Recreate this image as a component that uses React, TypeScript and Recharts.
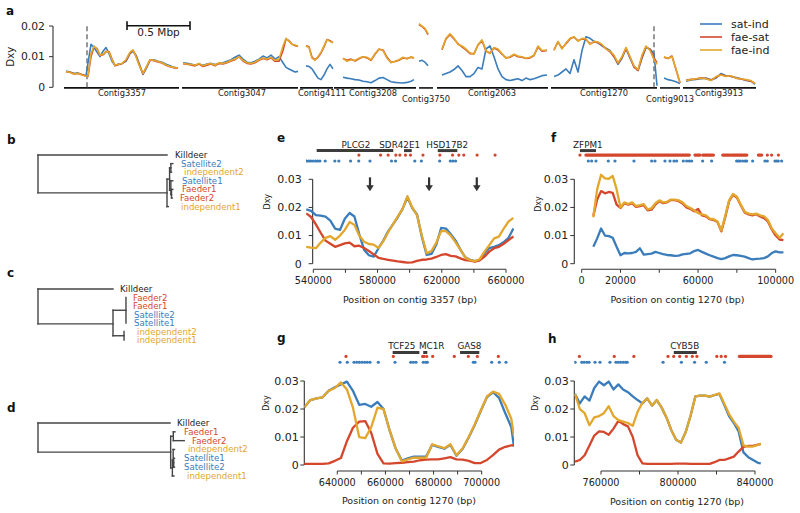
import React from "react";
import {
  ComposedChart,
  Line,
  Scatter,
  XAxis,
  YAxis,
  ReferenceLine,
  ReferenceDot,
  Legend,
} from "recharts";

const FONT = "DejaVu Sans, sans-serif";
const BLUE = "#3b7dbb";
const RED = "#d4472c";
const GOLD = "#e2a72c";
const INK = "#222";
const AXIS = "#333";
const GENE = "#3c3c3c";

const SERIES = [
  { key: "sat-ind", color: BLUE },
  { key: "fae-sat", color: RED },
  { key: "fae-ind", color: GOLD },
];

// ---------- panel a: genome-wide Dxy (positions in kb) ----------
const aContigs = [
  { name: "Contig3357", start: 0, end: 920, labelX: 464, low: false },
  { name: "Contig3047", start: 944, end: 1872, labelX: 1424, low: false },
  { name: "Contig4111", start: 1888, end: 2152, labelX: 2064, low: false },
  { name: "Contig3208", start: 2160, end: 2816, labelX: 2472, low: false },
  { name: "Contig3750", start: 2840, end: 2952, labelX: 2896, low: true },
  { name: "Contig2063", start: 2984, end: 3872, labelX: 3424, low: false },
  { name: "Contig1270", start: 3896, end: 4744, labelX: 4320, low: false },
  { name: "Contig9013", start: 4768, end: 4928, labelX: 4848, low: true },
  { name: "Contig3913", start: 4952, end: 5536, labelX: 5240, low: false },
];
const aBreaks = [184, 4720];

const aPos = [
  [16, 48, 80, 112, 144, 176, 192, 216, 240, 264, 288, 312, 336, 360, 384, 408, 432, 464, 496, 528, 552, 576, 608, 632, 656, 688, 720, 752, 784, 816, 848, 880, 912],
  [952, 984, 1016, 1048, 1080, 1112, 1144, 1176, 1208, 1240, 1272, 1304, 1336, 1368, 1400, 1432, 1464, 1496, 1528, 1560, 1592, 1624, 1656, 1688, 1720, 1752, 1776, 1800, 1824, 1848, 1872],
  [1936, 1960, 1984, 2008, 2032, 2056, 2080, 2104, 2128, 2152],
  [2232, 2264, 2296, 2328, 2360, 2392, 2424, 2456, 2488, 2520, 2552, 2584, 2616, 2648, 2680, 2712, 2744, 2776, 2800],
  [2840, 2864, 2888, 2912],
  [3024, 3056, 3088, 3120, 3152, 3184, 3216, 3248, 3280, 3312, 3344, 3376, 3408, 3440, 3472, 3504, 3536, 3568, 3600, 3632, 3664, 3696, 3728, 3760, 3792, 3824, 3864],
  [3920, 3952, 3984, 4016, 4048, 4080, 4112, 4144, 4176, 4208, 4240, 4272, 4304, 4336, 4368, 4400, 4432, 4464, 4496, 4528, 4560, 4592, 4624, 4656, 4688, 4720, 4744],
  [4800, 4832, 4864, 4896, 4928],
  [4976, 5016, 5056, 5096, 5136, 5176, 5216, 5256, 5296, 5336, 5376, 5416, 5456, 5496, 5528],
];
const aSatInd = [
  [.0053, .0050, .0045, .0047, .0042, .0038, .0080, .0140, .0130, .0115, .0100, .0118, .0130, .0110, .0085, .0072, .0075, .0078, .0085, .0110, .0118, .0105, .0070, .0042, .0060, .0088, .0090, .0085, .0082, .0075, .0070, .0065, .0063],
  [.0080, .0078, .0076, .0072, .0076, .0072, .0076, .0078, .0074, .0078, .0080, .0085, .0090, .0098, .0105, .0092, .0082, .0080, .0085, .0092, .0102, .0096, .0105, .0092, .0100, .0080, .0065, .0060, .0055, .0050, .0052],
  [.0070, .0068, .0060, .0045, .0030, .0025, .0040, .0060, .0075, .0060],
  [.0033, .0030, .0028, .0025, .0024, .0020, .0018, .0015, .0022, .0030, .0032, .0025, .0018, .0016, .0015, .0014, .0016, .0020, .0025],
  [.0085, .0088, .0082, .0070],
  [.0040, .0045, .0050, .0058, .0070, .0055, .0035, .0035, .0045, .0065, .0060, .0125, .0135, .0100, .0060, .0035, .0025, .0022, .0025, .0028, .0022, .0030, .0025, .0028, .0033, .0038, .0040],
  [.0035, .0040, .0050, .0060, .0045, .0090, .0050, .0120, .0165, .0160, .0150, .0145, .0135, .0128, .0120, .0100, .0075, .0095, .0125, .0095, .0068, .0055, .0095, .0130, .0125, .0110, .0005],
  [.0030, .0025, .0022, .0018, .0012],
  [.0020, .0024, .0026, .0028, .0030, .0025, .0030, .0045, .0038, .0035, .0032, .0028, .0022, .0020, .0010],
];
const aFaeSat = [
  [.0051, .0049, .0044, .0045, .0041, .0037, .0036, .0100, .0132, .0127, .0104, .0106, .0116, .0117, .0092, .0070, .0074, .0077, .0088, .0112, .0121, .0102, .0067, .0044, .0063, .0089, .0087, .0083, .0079, .0072, .0067, .0064, .0062],
  [.0077, .0075, .0073, .0070, .0076, .0068, .0072, .0076, .0070, .0078, .0076, .0080, .0086, .0090, .0100, .0086, .0078, .0076, .0080, .0088, .0094, .0090, .0096, .0085, .0085, .0120, .0158, .0152, .0141, .0136, .0134],
  [.0136, .0132, .0098, .0090, .0098, .0112, .0132, .0156, .0152, .0146],
  [.0094, .0088, .0092, .0086, .0093, .0100, .0096, .0088, .0108, .0124, .0122, .0098, .0082, .0084, .0088, .0096, .0094, .0098, .0096],
  [.0205, .0198, .0190, .0172],
  [.0123, .0158, .0172, .0158, .0142, .0132, .0122, .0110, .0110, .0138, .0152, .0118, .0112, .0128, .0122, .0108, .0096, .0098, .0106, .0100, .0098, .0094, .0096, .0104, .0132, .0118, .0120],
  [.0122, .0148, .0128, .0142, .0158, .0164, .0152, .0158, .0156, .0142, .0148, .0146, .0138, .0126, .0116, .0100, .0078, .0098, .0128, .0098, .0066, .0055, .0100, .0132, .0124, .0095, .0080],
  [.0098, .0094, .0102, .0058, .0014],
  [.0023, .0026, .0027, .0031, .0029, .0023, .0033, .0042, .0036, .0036, .0030, .0027, .0024, .0020, .0012],
];
const aFaeInd = [
  [.0052, .0048, .0043, .0046, .0040, .0036, .0038, .0110, .0135, .0125, .0105, .0108, .0118, .0115, .0090, .0072, .0075, .0078, .0090, .0115, .0122, .0100, .0065, .0045, .0065, .0090, .0088, .0084, .0080, .0073, .0068, .0065, .0063],
  [.0078, .0076, .0075, .0072, .0078, .0070, .0075, .0078, .0072, .0080, .0078, .0082, .0088, .0092, .0100, .0088, .0080, .0078, .0082, .0090, .0096, .0092, .0098, .0088, .0092, .0135, .0160, .0150, .0140, .0138, .0135],
  [.0135, .0130, .0095, .0088, .0100, .0115, .0135, .0155, .0150, .0145],
  [.0095, .0085, .0090, .0088, .0095, .0100, .0098, .0090, .0110, .0125, .0120, .0095, .0080, .0085, .0090, .0098, .0092, .0100, .0095],
  [.0208, .0200, .0192, .0175],
  [.0125, .0160, .0175, .0160, .0140, .0135, .0125, .0112, .0108, .0140, .0155, .0120, .0110, .0130, .0125, .0110, .0095, .0100, .0108, .0102, .0100, .0095, .0098, .0105, .0135, .0120, .0122],
  [.0120, .0150, .0125, .0145, .0160, .0165, .0150, .0160, .0158, .0140, .0150, .0148, .0140, .0125, .0118, .0105, .0080, .0100, .0130, .0100, .0070, .0058, .0105, .0135, .0120, .0090, .0075],
  [.0100, .0095, .0100, .0060, .0015],
  [.0022, .0025, .0028, .0030, .0028, .0022, .0035, .0040, .0035, .0038, .0030, .0028, .0025, .0022, .0012],
];

// ---------- panel e: contig 3357 ----------
const ePos = [535600, 538600, 541600, 544600, 547600, 550600, 553600, 556600, 559600, 562600, 565600, 568600, 571600, 574600, 577600, 580600, 583600, 586600, 589600, 592600, 595600, 598600, 601600, 604600, 607600, 610600, 613600, 616600, 619600, 622600, 625600, 628600, 631600, 634600, 637600, 640600, 643600, 646600, 649600, 652600, 655600, 658600, 661600, 664600];
const eSatInd = [.0193, .0188, .0173, .0171, .0167, .0153, .0125, .0120, .0160, .0180, .0168, .0105, .0050, .0030, .0025, .0055, .0082, .0115, .0140, .0165, .0195, .0236, .0198, .0175, .0095, .0031, .0035, .0068, .0127, .0125, .0105, .0082, .0050, .0023, .0014, .0009, .0013, .0037, .0055, .0060, .0066, .0077, .0092, .0125];
const eFaeSat = [.0179, .0166, .0140, .0110, .0082, .0071, .0060, .0066, .0072, .0075, .0062, .0064, .0056, .0045, .0033, .0021, .0017, .0014, .0011, .0008, .0006, .0004, .0005, .0010, .0014, .0015, .0018, .0024, .0031, .0034, .0028, .0026, .0019, .0013, .0011, .0007, .0012, .0025, .0043, .0055, .0060, .0071, .0084, .0097];
const eFaeInd = [.0060, .0057, .0055, .0075, .0092, .0098, .0085, .0100, .0120, .0148, .0138, .0100, .0078, .0070, .0068, .0056, .0080, .0112, .0140, .0168, .0195, .0240, .0200, .0172, .0100, .0037, .0045, .0075, .0116, .0116, .0100, .0076, .0050, .0022, .0013, .0009, .0016, .0043, .0066, .0090, .0096, .0125, .0150, .0163];
const eTicks = [540000, 560000, 580000, 600000, 620000, 640000, 660000];
const eTickLabels = [540000, 580000, 620000, 660000];
const eGenes = [
  { name: "PLCG2", start: 542100, end: 589800, labelX: 566500 },
  { name: "SDR42E1", start: 596500, end: 601300, labelX: 593800 },
  { name: "HSD17B2", start: 617500, end: 629700, labelX: 623400 },
];
const eRedDots = [568400, 581900, 586600, 591400, 593900, 597400, 600500, 608300, 618800, 626700, 630600, 633700, 642000, 653200];
const eBlueDots = [535900, 537300, 538500, 540000, 541500, 542700, 544100, 547400, 553400, 555900, 563200, 568300, 575300, 588700, 591200, 603200, 607300, 618700, 625300, 626900, 628600];
const eArrows = [575300, 612100, 641800];

// ---------- panel f: contig 1270 start ----------
const fPos = [6000, 8000, 10000, 12000, 14000, 16000, 18000, 20000, 22000, 24000, 26000, 28000, 30000, 32000, 34000, 36000, 38000, 40000, 42000, 44000, 46000, 48000, 50000, 52000, 54000, 56000, 58000, 60000, 62000, 64000, 66000, 68000, 70000, 72000, 74000, 76000, 78000, 80000, 82000, 84000, 86000, 88000, 90000, 92000, 94000, 96000, 98000, 100000, 102000, 104000];
const fSatInd = [.0060, .0090, .0125, .0100, .0098, .0092, .0060, .0030, .0038, .0037, .0038, .0042, .0055, .0032, .0034, .0036, .0042, .0038, .0034, .0031, .0030, .0028, .0029, .0033, .0035, .0037, .0045, .0049, .0042, .0036, .0030, .0025, .0020, .0016, .0020, .0026, .0031, .0030, .0028, .0025, .0020, .0015, .0017, .0018, .0020, .0026, .0038, .0044, .0040, .0040];
const fFaeSat = [.0170, .0228, .0258, .0250, .0255, .0252, .0210, .0198, .0215, .0210, .0214, .0202, .0205, .0208, .0190, .0192, .0210, .0222, .0215, .0218, .0226, .0226, .0222, .0214, .0200, .0195, .0186, .0195, .0172, .0168, .0158, .0155, .0148, .0115, .0165, .0222, .0245, .0235, .0208, .0182, .0175, .0172, .0176, .0168, .0162, .0150, .0122, .0100, .0086, .0084];
const fFaeInd = [.0165, .0265, .0316, .0303, .0302, .0312, .0265, .0200, .0218, .0212, .0218, .0205, .0208, .0212, .0193, .0197, .0215, .0225, .0218, .0220, .0228, .0228, .0225, .0218, .0205, .0198, .0190, .0180, .0175, .0172, .0160, .0158, .0150, .0118, .0170, .0225, .0248, .0238, .0210, .0185, .0178, .0175, .0178, .0172, .0168, .0155, .0125, .0108, .0092, .0108];
const fTicks = [0, 20000, 40000, 60000, 80000, 100000];
const fTickLabels = [0, 20000, 60000, 100000];
const fGenes = [{ name: "ZFPM1", start: -900, end: 7400, labelX: 3200 }];
const fRedDots = [-900, 95700, 97900, 101400];
const fRedRuns = [[2200, 55500], [58400, 61000], [62400, 67900], [72700, 76500], [77300, 85100], [91100, 92800]];
const fBlueDots = [3420, 5140, 7370, 13730, 17160, 26960, 36070, 37780, 42940, 45520, 47580, 48950, 52390, 54110, 55480, 56680, 62350, 66990, 79880, 80740, 81600, 82970, 84180, 85040, 88130, 94490, 95690, 99640, 100500, 101360, 103080];

// ---------- panel g: contig 1270 (MC1R region) ----------
const gPos = [626300, 628800, 631400, 633900, 636400, 639000, 641500, 644000, 646500, 649100, 651600, 654100, 656700, 659200, 661700, 664200, 666800, 669300, 671800, 674400, 676900, 679400, 681900, 684500, 687000, 689500, 692100, 694600, 697100, 699600, 702200, 704700, 707200, 709800, 712300, 713400];
const gSatInd = [.0206, .0232, .0238, .0242, .0265, .0278, .0288, .0298, .0265, .0215, .0218, .0208, .0225, .0200, .0125, .0060, .0016, .0024, .0030, .0030, .0030, .0072, .0065, .0058, .0072, .0033, .0058, .0098, .0143, .0193, .0243, .0260, .0240, .0185, .0135, .0065];
const gFaeSat = [.0004, .0004, .0004, .0004, .0006, .0015, .0025, .0085, .0133, .0155, .0157, .0115, .0040, .0006, .0005, .0007, .0008, .0010, .0012, .0017, .0019, .0020, .0020, .0024, .0028, .0020, .0019, .0015, .0007, .0007, .0018, .0035, .0055, .0065, .0070, .0071];
const gFaeInd = [.0206, .0232, .0238, .0242, .0265, .0275, .0295, .0270, .0205, .0100, .0096, .0135, .0205, .0200, .0125, .0060, .0013, .0020, .0026, .0026, .0026, .0074, .0067, .0060, .0074, .0035, .0060, .0100, .0145, .0195, .0245, .0262, .0254, .0215, .0165, .0104];
const gTicks = [640000, 650000, 660000, 670000, 680000, 690000, 700000];
const gTickLabels = [640000, 660000, 680000, 700000];
const gGenes = [
  { name: "TCF25", start: 663000, end: 674100, labelX: 666800 },
  { name: "MC1R", start: 675700, end: 677400, labelX: 679200 },
  { name: "GAS8", start: 691000, end: 699000, labelX: 694900 },
];
const gRedDots = [643610, 663270, 675490, 676020, 677150, 679640, 688610, 694430, 698170, 706900];
const gBlueDots = [641120, 644150, 646940, 648060, 649140, 650260, 651390, 652470, 653590, 657040, 663980, 670500, 671580, 672700, 675730, 676730, 677400, 696510, 697220, 704150, 707310, 710100];

// ---------- panel h: contig 1270 (CYB5B region) ----------
const hPos = [746500, 749000, 751500, 754000, 756500, 759000, 761500, 764000, 766500, 769000, 771500, 774000, 776500, 779000, 781500, 784000, 786500, 789000, 791500, 794000, 796500, 799000, 801500, 804000, 806500, 809000, 811500, 814000, 816500, 819000, 821500, 824000, 826500, 829000, 831500, 834000, 836500, 839000, 841500, 843000];
const hSatInd = [.0254, .0220, .0245, .0230, .0275, .0298, .0285, .0298, .0270, .0288, .0270, .0260, .0245, .0232, .0220, .0238, .0212, .0232, .0205, .0170, .0125, .0090, .0080, .0118, .0175, .0245, .0248, .0248, .0244, .0250, .0254, .0215, .0175, .0150, .0120, .0045, .0028, .0018, .0008, .0006];
const hFaeSat = [.0012, .0018, .0035, .0070, .0105, .0120, .0118, .0108, .0130, .0158, .0146, .0138, .0100, .0035, .0006, .0004, .0004, .0004, .0004, .0004, .0004, .0005, .0005, .0005, .0004, .0004, .0004, .0004, .0004, .0010, .0018, .0018, .0024, .0030, .0048, .0065, .0068, .0068, .0073, .0075];
const hFaeInd = [.0254, .0200, .0185, .0142, .0170, .0175, .0185, .0210, .0175, .0160, .0155, .0150, .0140, .0190, .0222, .0238, .0212, .0232, .0205, .0170, .0125, .0090, .0080, .0118, .0175, .0245, .0248, .0248, .0244, .0250, .0256, .0220, .0182, .0155, .0132, .0070, .0066, .0066, .0072, .0076];
const hTicks = [760000, 780000, 800000, 820000, 840000];
const hTickLabels = [760000, 800000, 840000];
const hGenes = [{ name: "CYB5B", start: 797800, end: 809800, labelX: 803500 }];
const hRedDots = [748770, 766880, 777070, 794820, 797770, 800870, 804340, 807440, 809820, 820170, 822440, 824670];
const hRedRuns = [[831900, 848300]];
const hBlueDots = [746550, 750020, 751210, 752600, 753790, 756900, 759480, 764660, 767760, 768950, 770190, 771540, 772780, 773610, 792230, 801750, 808630, 814680, 824150];

// ---------- trees b, c, d: [depth1, row1, depth2, row2]; rows go down ----------
const treeColors: Record<string, string> = { K: INK, S: BLUE, F: RED, I: GOLD };
const treeB = [
  [0, 0, 1, 0], [0, 0, 0, 4.4], [0, 4.4, 1, 4.4], [1, 2.8, 1, 6], [1, 6, 1.01, 6],
  [1, 2.8, 1.02, 2.8], [1.02, 1.5, 1.02, 4.1], [1.02, 1.5, 1.03, 1.5], [1.03, 1, 1.03, 2],
  [1.03, 1, 1.045, 1], [1.03, 2, 1.035, 2], [1.02, 4.1, 1.03, 4.1], [1.03, 3, 1.03, 4.6],
  [1.03, 3, 1.045, 3], [1.03, 4.6, 1.035, 4.6], [1.035, 4, 1.035, 5], [1.035, 4, 1.045, 4], [1.035, 5, 1.04, 5],
];
const treeBLabels = [
  ["Killdeer", 1.062, 0, "K"], ["Satellite2", 1.109, 1, "S"], ["independent2", 1.132, 2, "I"],
  ["Satellite1", 1.116, 3, "S"], ["Faeder1", 1.116, 4, "F"], ["Faeder2", 1.1, 5, "F"], ["independent1", 1.109, 6, "I"],
] as const;
const treeC = [
  [0, 0, 1, 0], [0, 0, 0, 4.1], [0, 4.1, 1, 4.1], [1, 2.5, 1, 5.5], [1, 2.5, 1.173, 2.5],
  [1.173, 1, 1.173, 4], [1, 5.5, 1.147, 5.5], [1.147, 5, 1.147, 6],
];
const treeCLabels = [
  ["Killdeer", 1.093, 0, "K"], ["Faeder2", 1.267, 1, "F"], ["Faeder1", 1.267, 2, "F"],
  ["Satellite2", 1.28, 3, "S"], ["Satellite1", 1.28, 4, "S"], ["independent2", 1.32, 5, "I"], ["independent1", 1.32, 6, "I"],
] as const;
const treeD = [
  [0, 0, 1, 0], [0, 0, 0, 3.3], [0, 3.3, 1.005, 3.3], [1.005, 1.5, 1.005, 5.1],
  [1.005, 1.5, 1.025, 1.5], [1.025, 1, 1.025, 2], [1.025, 1, 1.038, 1], [1.025, 2, 1.108, 2],
  [1.005, 5.1, 1.018, 5.1], [1.018, 4.2, 1.018, 6], [1.018, 6, 1.03, 6], [1.018, 4.2, 1.024, 4.2],
  [1.024, 3, 1.024, 4.5], [1.024, 3, 1.034, 3], [1.024, 4.5, 1.028, 4.5], [1.028, 4, 1.028, 5],
  [1.028, 4, 1.034, 4], [1.028, 5, 1.034, 5],
];
const treeDLabels = [
  ["Killdeer", 1.053, 0, "K"], ["Faeder1", 1.106, 1, "F"], ["Faeder2", 1.167, 2, "F"],
  ["independent2", 1.136, 3, "I"], ["Satellite1", 1.106, 4, "S"], ["Satellite2", 1.106, 5, "S"], ["independent1", 1.129, 6, "I"],
] as const;

// ---------- helpers ----------
const YW = 40; // y-axis box width
const XH = 30; // x-axis box height

const fmtY = (v: number) => (v === 0 ? "0" : v.toFixed(2));

const yTick = (dx: number, len: number, gap: number, size: number) => (p: any) => {
  const ax = p.x + dx;
  return (
    <g>
      <line x1={ax - len} x2={ax} y1={p.y} y2={p.y} stroke={AXIS} strokeWidth={1} />
      <text x={ax - len - gap} y={p.y} dy="0.35em" textAnchor="end" fontSize={size} fill={INK} fontFamily={FONT}>
        {fmtY(p.payload.value)}
      </text>
    </g>
  );
};

const textShape = (s: string, size: number, color: string, anchor = "start") => (p: any) => (
  <text x={p.cx} y={p.cy} dy="0.35em" textAnchor={anchor} fontSize={size} fill={color} fontFamily={FONT}>
    {s}
  </text>
);

const dotShape = (color: string) => (p: any) => <circle cx={p.cx} cy={p.cy} r={1.6} fill={color} />;

const arrowShape = (p: any) => (
  <g>
    <line x1={p.cx} y1={p.cy} x2={p.cx} y2={p.cy + 9} stroke="#333" strokeWidth={2.2} />
    <path d={`M${p.cx - 3.8},${p.cy + 8} L${p.cx + 3.8},${p.cy + 8} L${p.cx},${p.cy + 14} Z`} fill="#333" />
  </g>
);

const Layer = ({ children }: { children: React.ReactNode }) => (
  <div style={{ position: "absolute", left: 0, top: 0 }}>{children}</div>
);

// plot box in page pixels -> chart margins (axis boxes sit inside the margins)
const margins = (l: number, t: number, r: number, b: number, yw = 0, xh = 0) => ({
  left: l - yw,
  top: t,
  right: 800 - r,
  bottom: 513 - b - xh,
});

function contigRows(pos: number[][], vals: number[][]) {
  const rows: { x: number; v: number | null }[] = [];
  pos.forEach((seg, i) => {
    seg.forEach((x, j) => rows.push({ x, v: vals[i][j] }));
    rows.push({ x: seg[seg.length - 1] + 12, v: null });
  });
  return rows;
}

// ---------- panel a ----------
function GenomePanel() {
  const lines = [aSatInd, aFaeSat, aFaeInd];
  return (
    <Layer>
      <ComposedChart width={800} height={513} margin={margins(53, 19.9, 759, 101.1, YW, 0)}>
        <XAxis type="number" dataKey="x" domain={[-88, 5560]} allowDataOverflow hide />
        <YAxis
          type="number"
          domain={[-0.0045, 0.022]}
          allowDataOverflow
          width={YW}
          ticks={[0, 0.01, 0.02]}
          interval={0}
          tickSize={0}
          tickMargin={0}
          axisLine={false}
          tickLine={false}
          tick={yTick(0, 4, 4, 10.8)}
        />
        <ReferenceLine segment={[{ x: -88, y: 0 }, { x: -88, y: 0.02 }]} stroke={AXIS} strokeWidth={1.1} />
        {aContigs.map((c) => (
          <ReferenceLine key={c.name} segment={[{ x: c.start, y: -0.0002 }, { x: c.end, y: -0.0002 }]} stroke="#111" strokeWidth={1.6} />
        ))}
        {aContigs.map((c) => (
          <ReferenceDot key={c.name + "l"} x={c.labelX} y={c.low ? -0.0037 : -0.0019} r={0} shape={textShape(c.name, 8.3, INK, "middle")} />
        ))}
        {aBreaks.map((b) => (
          <ReferenceLine key={b} segment={[{ x: b, y: 0 }, { x: b, y: 0.0205 }]} stroke="#777" strokeWidth={1.5} strokeDasharray="5 3" />
        ))}
        <ReferenceLine segment={[{ x: 504, y: 0.0201 }, { x: 1008, y: 0.0201 }]} stroke="#111" strokeWidth={1.6} />
        <ReferenceLine segment={[{ x: 504, y: 0.0187 }, { x: 504, y: 0.0216 }]} stroke="#111" strokeWidth={1.6} />
        <ReferenceLine segment={[{ x: 1008, y: 0.0187 }, { x: 1008, y: 0.0216 }]} stroke="#111" strokeWidth={1.6} />
        <ReferenceDot x={756} y={0.0178} r={0} shape={textShape("0.5 Mbp", 10.5, INK, "middle")} />
        {SERIES.map((s, i) => (
          <Line
            key={s.key}
            data={contigRows(aPos, lines[i])}
            dataKey="v"
            stroke={s.color}
            strokeWidth={1.6}
            strokeLinejoin="round"
            dot={false}
            isAnimationActive={false}
          />
        ))}
        <Legend
          layout="vertical"
          align="center"
          verticalAlign="middle"
          wrapperStyle={{ left: 695, top: 14, width: 80, height: 46 }}
          content={() => (
            <svg width={80} height={46}>
              {SERIES.map((s, i) => (
                <g key={s.key}>
                  <line x1={5} x2={27} y1={10 + 13 * i} y2={10 + 13 * i} stroke={s.color} strokeWidth={1.6} />
                  <text x={36} y={10 + 13 * i} dy="0.35em" fontSize={11} fill={INK} fontFamily={FONT}>
                    {s.key}
                  </text>
                </g>
              ))}
            </svg>
          )}
        />
      </ComposedChart>
    </Layer>
  );
}

// ---------- panels e-h ----------
type Gene = { name: string; start: number; end: number; labelX: number };
type ZoomProps = {
  box: [number, number, number, number];
  xDomain: [number, number];
  yDomain: [number, number];
  yAxisX: number;
  axisDx: number;
  labelGap: number;
  rows: { label: number; bar: number; red: number; blue: number };
  pos: number[];
  satInd: number[];
  faeSat: number[];
  faeInd: number[];
  ticks: number[];
  tickLabels: number[];
  genes: Gene[];
  redDots: number[];
  redRuns?: number[][];
  blueDots: number[];
  arrows?: number[];
};

function ZoomPanel(p: ZoomProps) {
  const [l, t, r, b] = p.box;
  const mk = (vals: number[]) => p.pos.map((x, i) => ({ x, v: vals[i] }));
  const y0 = p.yDomain[0];
  return (
    <Layer>
      <ComposedChart width={800} height={513} margin={margins(l, t, r, b, YW, XH)}>
        <XAxis
          type="number"
          dataKey="x"
          domain={p.xDomain}
          allowDataOverflow
          height={XH}
          ticks={p.ticks}
          interval={0}
          tickFormatter={(v: number) => (p.tickLabels.includes(v) ? String(v) : "")}
          axisLine={false}
          tickSize={3.5}
          tickMargin={4.7}
          tickLine={{ stroke: AXIS }}
          tick={{ fontSize: 9.7, fill: INK, fontFamily: FONT }}
        />
        <YAxis
          type="number"
          domain={p.yDomain}
          allowDataOverflow
          width={YW}
          ticks={[0, 0.01, 0.02, 0.03]}
          interval={0}
          tickSize={0}
          tickMargin={0}
          axisLine={false}
          tickLine={false}
          tick={yTick(p.axisDx, 4, p.labelGap, 11)}
        />
        <ReferenceLine
          segment={[{ x: p.ticks[0], y: y0 }, { x: p.ticks[p.ticks.length - 1], y: y0 }]}
          stroke={AXIS}
          strokeWidth={1.1}
        />
        <ReferenceLine segment={[{ x: p.yAxisX, y: 0 }, { x: p.yAxisX, y: 0.03 }]} stroke={AXIS} strokeWidth={1.1} />
        {p.genes.map((g) => (
          <ReferenceLine key={g.name} segment={[{ x: g.start, y: p.rows.bar }, { x: g.end, y: p.rows.bar }]} stroke={GENE} strokeWidth={3} />
        ))}
        {p.genes.map((g) => (
          <ReferenceDot key={g.name + "l"} x={g.labelX} y={p.rows.label} r={0} shape={textShape(g.name, 8.8, INK, "middle")} />
        ))}
        {(p.redRuns ?? []).map((run, i) => (
          <ReferenceLine
            key={"run" + i}
            segment={[{ x: run[0], y: p.rows.red }, { x: run[1], y: p.rows.red }]}
            stroke={RED}
            strokeWidth={3.2}
            strokeLinecap="round"
          />
        ))}
        <Scatter data={p.redDots.map((x) => ({ x, y: p.rows.red }))} dataKey="y" shape={dotShape(RED)} isAnimationActive={false} />
        <Scatter data={p.blueDots.map((x) => ({ x, y: p.rows.blue }))} dataKey="y" shape={dotShape(BLUE)} isAnimationActive={false} />
        {(p.arrows ?? []).map((x) => (
          <ReferenceDot key={"arr" + x} x={x} y={0.0307} r={0} shape={arrowShape} />
        ))}
        <Line data={mk(p.satInd)} dataKey="v" stroke={BLUE} strokeWidth={2.3} strokeLinejoin="round" dot={false} isAnimationActive={false} />
        <Line data={mk(p.faeSat)} dataKey="v" stroke={RED} strokeWidth={2.3} strokeLinejoin="round" dot={false} isAnimationActive={false} />
        <Line data={mk(p.faeInd)} dataKey="v" stroke={GOLD} strokeWidth={2.3} strokeLinejoin="round" dot={false} isAnimationActive={false} />
      </ComposedChart>
    </Layer>
  );
}

// ---------- trees ----------
function TreePanel({
  box,
  xMax,
  segs,
  labels,
}: {
  box: [number, number, number, number];
  xMax: number;
  segs: number[][];
  labels: readonly (readonly [string, number, number, string])[];
}) {
  const [l, t, r, b] = box;
  return (
    <Layer>
      <ComposedChart width={800} height={513} margin={margins(l, t, r, b)}>
        <XAxis type="number" dataKey="x" domain={[0, xMax]} allowDataOverflow hide />
        <YAxis type="number" domain={[-1, 7]} reversed allowDataOverflow hide />
        {segs.map((s, i) => (
          <ReferenceLine
            key={i}
            segment={[{ x: s[0], y: s[1] }, { x: s[2], y: s[3] }]}
            stroke="#444"
            strokeWidth={1.4}
            strokeLinecap="square"
          />
        ))}
        {labels.map(([name, x, row, grp]) => (
          <ReferenceDot key={name} x={x} y={row} r={0} shape={textShape(name, 8.6, treeColors[grp])} />
        ))}
      </ComposedChart>
    </Layer>
  );
}

const EF_ROWS = { label: 0.0422, bar: 0.0402, red: 0.0386, blue: 0.0365 };
const GH_ROWS = { label: 0.0426, bar: 0.0402, red: 0.0388, blue: 0.0367 };

const panelLetters: [string, number, number][] = [
  ["a", 6, 15], ["b", 7, 144], ["c", 7, 277], ["d", 7, 412],
  ["e", 277, 141.7], ["f", 551, 141.7], ["g", 277, 342], ["h", 548, 343],
];
const axisTitles: [string, number, number][] = [
  ["Position on contig 3357 (bp)", 410, 300],
  ["Position on contig 1270 (bp)", 677.5, 300],
  ["Position on contig 1270 (bp)", 409, 501],
  ["Position on contig 1270 (bp)", 677, 501.5],
];
const dxyLabels: [number, number, number][] = [
  [10, 56.7, 10.2], [266.7, 201.7, 8], [538.3, 204, 8], [266.7, 403, 8], [535, 403, 8],
];

export default function App() {
  return (
    <div style={{ position: "absolute", left: 0, top: 0, width: 800, height: 513, background: "#fff", fontFamily: FONT }}>
      <GenomePanel />
      <TreePanel box={[38, 146.4, 199.25, 215.2]} xMax={1.25} segs={treeB} labels={treeBLabels} />
      <TreePanel box={[38, 280.5, 143, 348.5]} xMax={1.4} segs={treeC} labels={treeCLabels} />
      <TreePanel box={[38, 414.17, 203, 484.8]} xMax={1.25} segs={treeD} labels={treeDLabels} />
      <ZoomPanel
        box={[306, 134, 514, 269.3]}
        xDomain={[535450, 664980]}
        yDomain={[-0.00199, 0.0461]}
        yAxisX={539600}
        axisDx={6.7}
        labelGap={7}
        rows={EF_ROWS}
        pos={ePos}
        satInd={eSatInd}
        faeSat={eFaeSat}
        faeInd={eFaeInd}
        ticks={eTicks}
        tickLabels={eTickLabels}
        genes={eGenes}
        redDots={eRedDots}
        blueDots={eBlueDots}
        arrows={eArrows}
      />
      <ZoomPanel
        box={[574.3, 134, 784.4, 269.3]}
        xDomain={[-3800, 104500]}
        yDomain={[-0.00199, 0.0461]}
        yAxisX={-3800}
        axisDx={0}
        labelGap={2}
        rows={EF_ROWS}
        pos={fPos}
        satInd={fSatInd}
        faeSat={fFaeSat}
        faeInd={fFaeInd}
        ticks={fTicks}
        tickLabels={fTickLabels}
        genes={fGenes}
        redDots={fRedDots}
        redRuns={fRedRuns}
        blueDots={fBlueDots}
      />
      <ZoomPanel
        box={[304.3, 334, 514, 471]}
        xDomain={[626290, 713420]}
        yDomain={[-0.00214, 0.0468]}
        yAxisX={626290}
        axisDx={0}
        labelGap={1.5}
        rows={GH_ROWS}
        pos={gPos}
        satInd={gSatInd}
        faeSat={gFaeSat}
        faeInd={gFaeInd}
        ticks={gTicks}
        tickLabels={gTickLabels}
        genes={gGenes}
        redDots={gRedDots}
        blueDots={gBlueDots}
      />
      <ZoomPanel
        box={[574.3, 334, 773, 471]}
        xDomain={[746130, 849350]}
        yDomain={[-0.00214, 0.0468]}
        yAxisX={746130}
        axisDx={0}
        labelGap={1.5}
        rows={GH_ROWS}
        pos={hPos}
        satInd={hSatInd}
        faeSat={hFaeSat}
        faeInd={hFaeInd}
        ticks={hTicks}
        tickLabels={hTickLabels}
        genes={hGenes}
        redDots={hRedDots}
        redRuns={hRedRuns}
        blueDots={hBlueDots}
      />
      <svg width={800} height={513} style={{ position: "absolute", left: 0, top: 0, pointerEvents: "none" }} fontFamily={FONT}>
        {panelLetters.map(([s, x, y]) => (
          <text key={s} x={x} y={y} fontSize={12} fontWeight="bold" fill="#111">
            {s}
          </text>
        ))}
        {axisTitles.map(([s, x, y], i) => (
          <text key={i} x={x} y={y} dy="0.35em" textAnchor="middle" fontSize={9.5} fill={INK}>
            {s}
          </text>
        ))}
        {dxyLabels.map(([x, y, size], i) => (
          <text key={i} x={x} y={y} dy="0.35em" textAnchor="middle" fontSize={size} fill={INK} transform={`rotate(-90 ${x} ${y})`}>
            Dxy
          </text>
        ))}
      </svg>
    </div>
  );
}
